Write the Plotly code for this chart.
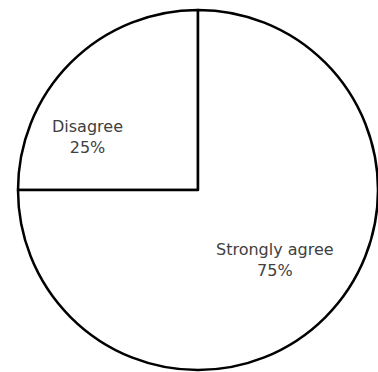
import plotly.graph_objects as go

labels = ["Disagree", "Strongly agree"]
values = [25, 75]

W, H = 378, 372
cx, cy, r = 198, 190, 180

# label block centres (pixels) as placed by the original chart
label_pos = {"Disagree": (87, 137), "Strongly agree": (275, 260)}

fig = go.Figure(go.Pie(
    labels=labels,
    values=values,
    sort=False,
    direction="clockwise",
    rotation=-90,
    marker=dict(colors=["#ffffff", "#ffffff"], line=dict(color="#000000", width=2.5)),
    textinfo="none",
    hoverinfo="skip",
    showlegend=False,
    domain=dict(x=[(cx - r) / W, (cx + r) / W], y=[1 - (cy + r) / H, 1 - (cy - r) / H]),
))

total = sum(values)
for lab, val in zip(labels, values):
    px, py = label_pos[lab]
    fig.add_annotation(
        x=px / W, y=1 - py / H, xref="paper", yref="paper",
        xanchor="center", yanchor="middle",
        text=f"{lab}<br>{round(100 * val / total)}%",
        showarrow=False,
        font=dict(family="DejaVu Sans", size=16, color="#404040"),
    )

fig.update_layout(
    width=W, height=H,
    margin=dict(l=0, r=0, t=0, b=0),
    paper_bgcolor="white",
    plot_bgcolor="white",
)

fig.write_html("out.html")
